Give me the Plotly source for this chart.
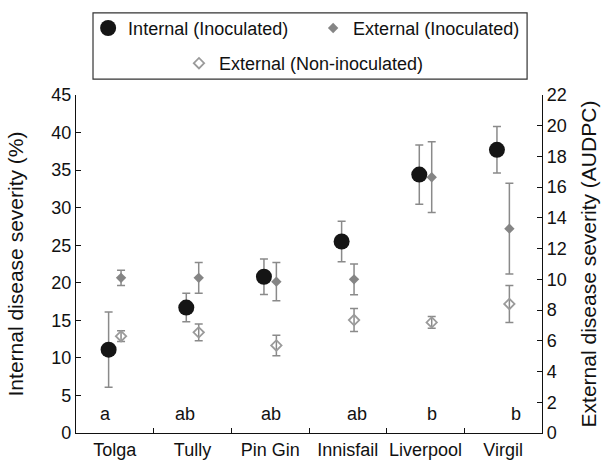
import plotly.graph_objects as go

sites = ["Tolga", "Tully", "Pin Gin", "Innisfail", "Liverpool", "Virgil"]
internal = [11.1, 16.7, 20.8, 25.5, 34.4, 37.7]
internal_err = [5.0, 1.9, 2.35, 2.7, 3.95, 3.1]
ext_inoc = [10.1, 10.1, 9.85, 10.0, 16.65, 13.3]
ext_inoc_err = [0.5, 1.0, 1.25, 1.0, 2.3, 2.95]
ext_non = [6.3, 6.55, 5.7, 7.35, 7.2, 8.4]
ext_non_err = [0.35, 0.55, 0.67, 0.75, 0.38, 1.2]
letters = ["a", "ab", "ab", "ab", "b", "b"]
letter_shift = [-0.12, -0.10, 0.01, 0.12, 0.08, 0.17]
letter_y = 2.5

FONT = "Liberation Sans, Arial, sans-serif"
idx = list(range(len(sites)))
off = 0.08
x_int = [i - off for i in idx]
x_ext = [i + off for i in idx]

fig = go.Figure()
errstyle = dict(type="data", color="#8a8a8a", thickness=1.5, width=4)

fig.add_trace(go.Scatter(
    x=x_int, y=internal, mode="markers", name="Internal (Inoculated)",
    marker=dict(symbol="circle", size=16, color="#151515"),
    error_y=dict(array=internal_err, **errstyle), legend="legend"))
fig.add_trace(go.Scatter(
    x=x_ext, y=ext_inoc, mode="markers", name="External (Inoculated)",
    marker=dict(symbol="diamond", size=8, color="#858585"),
    error_y=dict(array=ext_inoc_err, **errstyle), yaxis="y2", legend="legend"))
fig.add_trace(go.Scatter(
    x=x_ext, y=ext_non, mode="markers", name="External (Non-inoculated)",
    marker=dict(symbol="diamond-open", size=8, color="#9a9a9a", line=dict(width=1.8)),
    error_y=dict(array=ext_non_err, **errstyle), yaxis="y2", legend="legend2"))
# invisible trace to anchor boundary-tick axis
fig.add_trace(go.Scatter(x=[idx[0]], y=[0], xaxis="x2", mode="markers",
                         marker=dict(opacity=0), showlegend=False, hoverinfo="skip"))

for i, (lt, sh) in enumerate(zip(letters, letter_shift)):
    fig.add_annotation(x=i + sh, y=letter_y, text=lt, showarrow=False,
                       xref="x", yref="y", font=dict(size=18, color="#111"),
                       yanchor="middle")

fig.add_shape(type="rect", xref="paper", yref="paper",
              x0=0.0365, x1=0.968, y0=1.047, y1=1.243,
              line=dict(color="#333", width=1.2), fillcolor="rgba(0,0,0,0)")

axis_common = dict(showgrid=False, zeroline=False, showline=True,
                   linecolor="#111", linewidth=1.3, tickcolor="#111",
                   tickfont=dict(size=18, color="#111", family=FONT))

fig.update_layout(
    width=606, height=461,
    margin=dict(l=76, r=64, t=95, b=28, autoexpand=False),
    paper_bgcolor="white", plot_bgcolor="white",
    font=dict(family=FONT, color="#111"),
    xaxis=dict(range=[-0.5, 5.5], tickvals=idx, ticktext=sites, ticks="",
               **axis_common),
    xaxis2=dict(range=[-0.5, 5.5], overlaying="x", tickvals=[0.5, 1.5, 2.5, 3.5, 4.5],
                ticks="inside", ticklen=5, tickwidth=1.3, tickcolor="#111",
                showticklabels=False, showgrid=False, zeroline=False, showline=False,
                side="bottom", anchor="y"),
    yaxis=dict(range=[0, 45], dtick=5, ticks="inside", ticklen=5, tickwidth=1.3,
               title=dict(text="Internal disease severity (%)", standoff=21,
                          font=dict(size=21, color="#111", family=FONT)),
               **axis_common),
    yaxis2=dict(range=[0, 22], dtick=2, ticks="inside", ticklen=5, tickwidth=1.3,
                overlaying="y", side="right", anchor="x",
                title=dict(text="External disease severity (AUDPC)",
                           font=dict(size=21, color="#111", family=FONT)),
                **axis_common),
    legend=dict(orientation="h", x=0.026, y=1.252, xanchor="left", yanchor="top",
                entrywidth=180, bgcolor="rgba(0,0,0,0)", borderwidth=0,
                font=dict(size=18, color="#111", family=FONT)),
    legend2=dict(orientation="h", x=0.221, y=1.148, xanchor="left", yanchor="top",
                 bgcolor="rgba(0,0,0,0)", borderwidth=0,
                 font=dict(size=18, color="#111", family=FONT)),
    showlegend=True,
)

fig.write_html("out.html", config={"displayModeBar": False},
               post_script="document.body.style.margin='0';")
